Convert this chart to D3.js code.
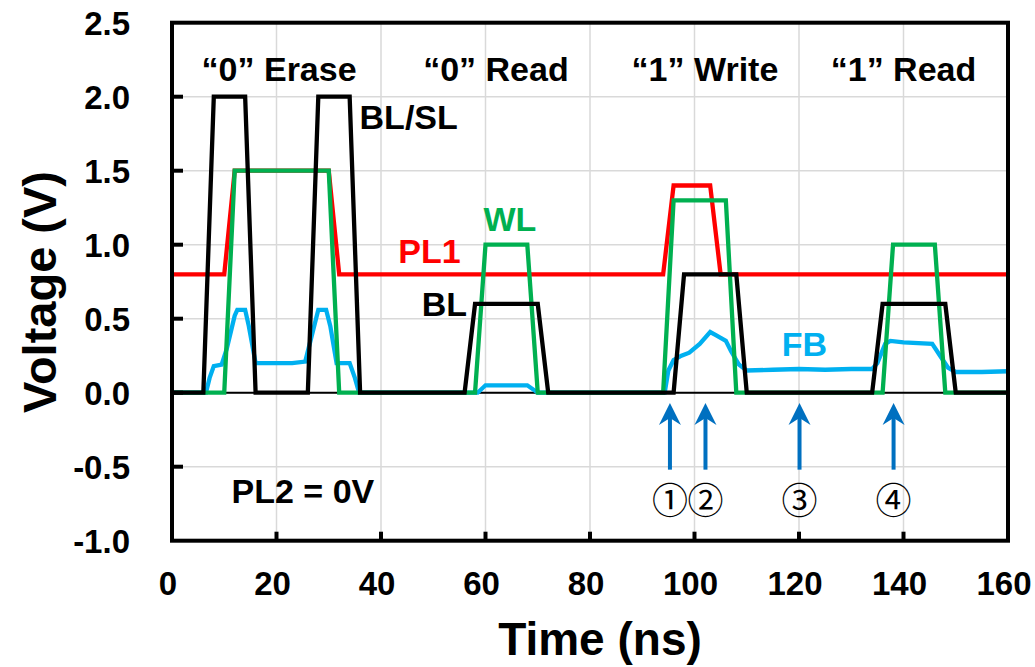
<html>
<head>
    <meta charset="utf-8">
    <script src="https://cdn.jsdelivr.net/npm/d3@7"></script>
    <style>
        body { margin: 0; background: #fff; }
        text { font-family: "Liberation Sans", Arial, sans-serif; font-weight: bold; }
    </style>
</head>
<body>
    <div id="cont"></div>
    <script>
        // series: [time (ns), voltage (V)]
        var blsl = [[0,0],[6,0],[8,2],[14,2],[16,0],[26,0],[28,2],[34,2],[36,0],
                    [56,0],[58,0.6],[70,0.6],[72,0],
                    [96,0],[98,0.8],[108,0.8],[110,0],
                    [134,0],[136,0.6],[148,0.6],[150,0],[160,0]];
        var pl1 = [[0,0.8],[10,0.8],[12,1.5],[30,1.5],[32,0.8],
                   [94,0.8],[96,1.4],[103,1.4],[105,0.8],[160,0.8]];
        var wl = [[0,0],[10,0],[12,1.5],[30,1.5],[32,0],
                  [58,0],[60,1.0],[68,1.0],[70,0],
                  [94,0],[96,1.3],[106,1.3],[108,0],
                  [136,0],[138,1.0],[146,1.0],[148,0],[160,0]];
        var fb = [[0,0],[6.5,0],[7.2,0.1],[8,0.18],[9.5,0.19],[10.5,0.3],[12,0.52],[12.5,0.56],
                  [14,0.56],[14.7,0.45],[16,0.2],[17,0.2],[23,0.2],[25.5,0.21],[26.5,0.35],
                  [28,0.56],[29.5,0.56],[30.3,0.45],[31.5,0.2],[34,0.2],[35,0.1],[35.8,0],
                  [58.5,0],[60,0.05],[68,0.05],[70,0],
                  [94.3,0],[95,0.15],[96,0.22],[97.5,0.25],[99,0.27],[101,0.33],[103,0.41],
                  [104,0.39],[105,0.37],[106,0.35],[107,0.28],[108.5,0.19],[110,0.15],
                  [115,0.155],[120,0.16],[125,0.155],[130,0.16],[134,0.16],[135,0.2],
                  [136.5,0.33],[137.5,0.35],[140,0.34],[145.5,0.33],[147,0.25],[148.5,0.17],
                  [150,0.14],[155,0.14],[160,0.145]];

        var xTicks = [0, 20, 40, 60, 80, 100, 120, 140, 160];
        var yTicks = [-1.0, -0.5, 0.0, 0.5, 1.0, 1.5, 2.0, 2.5];

        var phases = [{t: 20.5, label: "\u201c0\u201d Erase"},
                      {t: 62, label: "\u201c0\u201d Read"},
                      {t: 102, label: "\u201c1\u201d Write"},
                      {t: 140, label: "\u201c1\u201d Read"}];

        var arrowTimes = [95.3, 102.1, 120.1, 138.1];
        var arrowLabels = ["\u2460", "\u2461", "\u2462", "\u2463"];

        var pLeft = 172, pRight = 1008, pTop = 22.7, pBottom = 540.7;

        var svg = d3.select("#cont").append("svg")
            .attr("width", 1035)
            .attr("height", 667);

        var x = d3.scaleLinear().domain([0, 160]).range([pLeft, pRight]);
        var y = d3.scaleLinear().domain([-1, 2.5]).range([pBottom, pTop]);

        // grid
        svg.append("g").selectAll("line").data(xTicks.slice(1, -1)).enter().append("line")
            .attr("x1", function(d) { return x(d); }).attr("x2", function(d) { return x(d); })
            .attr("y1", pTop).attr("y2", pBottom)
            .attr("stroke", "#d9d9d9").attr("stroke-width", 1.5);
        svg.append("g").selectAll("line").data(yTicks.slice(1, -1)).enter().append("line")
            .attr("x1", pLeft).attr("x2", pRight)
            .attr("y1", function(d) { return y(d); }).attr("y2", function(d) { return y(d); })
            .attr("stroke", "#d9d9d9").attr("stroke-width", 1.5);

        // zero line
        svg.append("line").attr("x1", pLeft).attr("x2", pRight)
            .attr("y1", y(0)).attr("y2", y(0))
            .attr("stroke", "#000").attr("stroke-width", 2);

        var line = d3.line()
            .x(function(d) { return x(d[0]); })
            .y(function(d) { return y(d[1]); });

        var series = [[pl1, "#ff0000"], [fb, "#00b0f0"], [wl, "#00b050"], [blsl, "#000000"]];
        series.forEach(function(s) {
            svg.append("path")
                .attr("d", line(s[0]))
                .attr("fill", "none")
                .attr("stroke", s[1])
                .attr("stroke-width", 4.3)
                .attr("stroke-linejoin", "miter");
        });

        // frame + inward ticks
        svg.append("rect").attr("x", pLeft).attr("y", pTop)
            .attr("width", pRight - pLeft).attr("height", pBottom - pTop)
            .attr("fill", "none").attr("stroke", "#000").attr("stroke-width", 4);

        svg.append("g").selectAll("line").data(yTicks.slice(1, -1)).enter().append("line")
            .attr("x1", pLeft).attr("x2", pLeft + 11)
            .attr("y1", function(d) { return y(d); }).attr("y2", function(d) { return y(d); })
            .attr("stroke", "#000").attr("stroke-width", 4);
        svg.append("g").selectAll("line").data(xTicks.slice(1, -1)).enter().append("line")
            .attr("x1", function(d) { return x(d); }).attr("x2", function(d) { return x(d); })
            .attr("y1", pBottom).attr("y2", pBottom - 9)
            .attr("stroke", "#000").attr("stroke-width", 4);

        // tick labels
        var fmt = d3.format(".1f");
        svg.append("g").selectAll("text").data(yTicks).enter().append("text")
            .attr("x", pLeft - 42)
            .attr("y", function(d) { return y(d); })
            .attr("dy", "0.36em")
            .attr("text-anchor", "end")
            .attr("font-size", 33)
            .text(function(d) { return fmt(d).replace("\u2212", "-"); });
        svg.append("g").selectAll("text").data(xTicks).enter().append("text")
            .attr("x", function(d) { return x(d) - 4; })
            .attr("y", 595)
            .attr("text-anchor", "middle")
            .attr("font-size", 33)
            .text(function(d) { return d; });

        // axis titles
        svg.append("text").attr("x", 600).attr("y", 655)
            .attr("text-anchor", "middle").attr("font-size", 46)
            .text("Time (ns)");
        svg.append("text")
            .attr("transform", "translate(56," + 292 + ") rotate(-90)")
            .attr("text-anchor", "middle").attr("font-size", 47)
            .text("Voltage (V)");

        // phase titles
        svg.append("g").selectAll("text").data(phases).enter().append("text")
            .attr("x", function(d) { return x(d.t); })
            .attr("y", 81)
            .attr("text-anchor", "middle")
            .attr("font-size", 34)
            .text(function(d) { return d.label; });

        // signal labels
        var labels = [
            {text: "BL/SL", t: 35.9, v: 2.0, dy: 32.5, color: "#000"},
            {text: "PL1", t: 43.3, v: 0.8, dy: -11, color: "#ff0000"},
            {text: "WL", t: 59.6, v: 1.0, dy: -14, color: "#00b050"},
            {text: "BL", t: 47.8, v: 0.6, dy: 12, color: "#000"},
            {text: "FB", t: 116.7, v: 0.16, dy: -13, color: "#00b0f0"},
            {text: "PL2 = 0V", t: 11.4, v: -0.5, dy: 36, color: "#000"}
        ];
        svg.append("g").selectAll("text").data(labels).enter().append("text")
            .attr("x", function(d) { return x(d.t); })
            .attr("y", function(d) { return y(d.v) + d.dy; })
            .attr("fill", function(d) { return d.color; })
            .attr("font-size", 34)
            .text(function(d) { return d.text; });

        // arrows
        var ag = svg.append("g").selectAll("g").data(arrowTimes).enter().append("g");
        ag.append("line")
            .attr("x1", function(d) { return x(d); }).attr("x2", function(d) { return x(d); })
            .attr("y1", y(-0.52)).attr("y2", y(-0.07) + 14)
            .attr("stroke", "#0070c0").attr("stroke-width", 4);
        ag.append("path")
            .attr("d", function(d) {
                var cx = x(d), ty = y(-0.07);
                return "M" + cx + "," + ty + "L" + (cx + 11) + "," + (ty + 22) +
                       "L" + cx + "," + (ty + 15) + "L" + (cx - 11) + "," + (ty + 22) + "Z";
            })
            .attr("fill", "#0070c0");
        svg.append("g").selectAll("text").data(arrowTimes).enter().append("text")
            .attr("x", function(d) { return x(d); })
            .attr("y", y(-0.73))
            .attr("dy", "0.36em")
            .attr("text-anchor", "middle")
            .style("font-family", "'DejaVu Serif', 'Noto Sans CJK JP', serif")
            .style("font-weight", "normal")
            .attr("font-size", 36)
            .text(function(d, i) { return arrowLabels[i]; });
    </script>
</body>
</html>
